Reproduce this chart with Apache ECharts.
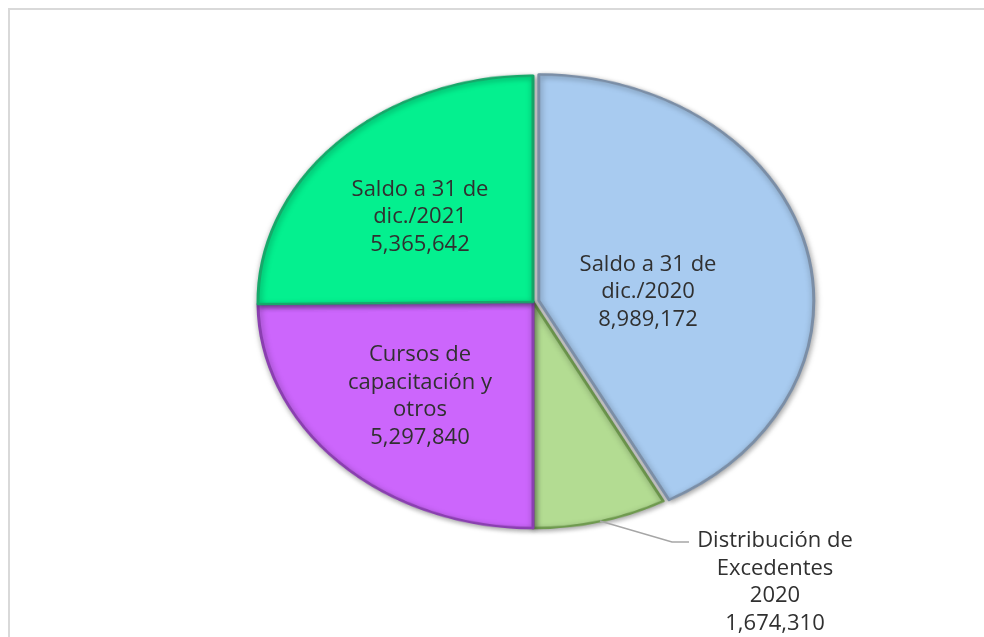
<!DOCTYPE html>
<html>
<head>
<meta charset="utf-8">
<script src="https://cdn.jsdelivr.net/npm/echarts@6/dist/echarts.min.js"></script>
<style>
  html, body { margin: 0; padding: 0; background: #fff; }
  #stage { position: relative; width: 984px; height: 637px; overflow: hidden; }
  /* pie drawn as a circle, then squashed into the tilted ellipse of the original */
  #pieLayer {
    position: absolute; left: 0; top: 0;
    width: 984px; height: 775px;
    transform: scaleY(0.8225);
    transform-origin: 0 0;
  }
  #labelLayer { position: absolute; left: 0; top: 0; width: 984px; height: 637px; }
</style>
</head>
<body>
<div id="stage">
  <div id="pieLayer"></div>
  <div id="labelLayer"></div>
</div>
<script>
const categories = [
  'Saldo a 31 de\ndic./2020',
  'Distribución de\nExcedentes\n2020',
  'Cursos de\ncapacitación y\notros',
  'Saldo a 31 de\ndic./2021'
];
const values = [8989172, 1674310, 5297840, 5365642];

const colors = ['#a8cbf0', '#b3dc92', '#cc66fc', '#04f08f'];
const edgeColors = ['#7b8ea6', '#6f9a4f', '#8a3fb0', '#17a86a'];

// label anchors (centre of each text block) and the one leader line
const labelSpots = [[648, 292], [775, 582], [420, 396], [420, 217]];
const leaderPts = [[600, 521], [672, 542], [689, 542]];

const fmt = v => v.toLocaleString('en-US');

const pieChart = echarts.init(document.getElementById('pieLayer'));
pieChart.setOption({
  animation: false,
  series: [{
    type: 'pie',
    center: [533, 367],
    radius: 275,
    startAngle: 90,
    clockwise: true,
    selectedMode: 'single',
    selectedOffset: 6,
    label: { show: false },
    labelLine: { show: false },
    data: values.map((v, i) => ({
      value: v,
      name: categories[i],
      selected: i === 0,
      itemStyle: {
        color: colors[i],
        borderColor: edgeColors[i],
        borderWidth: 3,
        shadowBlur: 6,
        shadowColor: 'rgba(0,0,0,0.35)',
        shadowOffsetX: 1,
        shadowOffsetY: 2
      }
    }))
  }]
});

const labelChart = echarts.init(document.getElementById('labelLayer'));
labelChart.setOption({
  animation: false,
  graphic: [{
    type: 'rect',
    shape: { x: 9, y: 9, width: 1000, height: 700 },
    style: { fill: 'none', stroke: '#d9d9d9', lineWidth: 2 },
    silent: true
  }],
  series: [{
    type: 'pie',
    silent: true,
    center: [533, 302],
    radius: 240,
    startAngle: 90,
    itemStyle: { color: 'rgba(0,0,0,0)' },
    label: {
      show: true,
      position: 'inside',
      color: '#303030',
      fontFamily: 'Open Sans',
      fontSize: 22,
      lineHeight: 27.5,
      align: 'center',
      formatter: p => p.name + '\n' + fmt(p.value)
    },
    labelLine: { show: false },
    labelLayout: p => ({
      x: labelSpots[p.dataIndex][0],
      y: labelSpots[p.dataIndex][1],
      align: 'center',
      verticalAlign: 'middle',
      labelLinePoints: p.dataIndex === 1 ? leaderPts : undefined
    }),
    data: values.map((v, i) => ({
      value: v,
      name: categories[i],
      label: i === 1 ? { position: 'outside' } : undefined,
      labelLine: i === 1 ? { show: true, length: 20, length2: 15, lineStyle: { color: '#a6a6a6', width: 1.5 } } : undefined
    }))
  }]
});
</script>
</body>
</html>
